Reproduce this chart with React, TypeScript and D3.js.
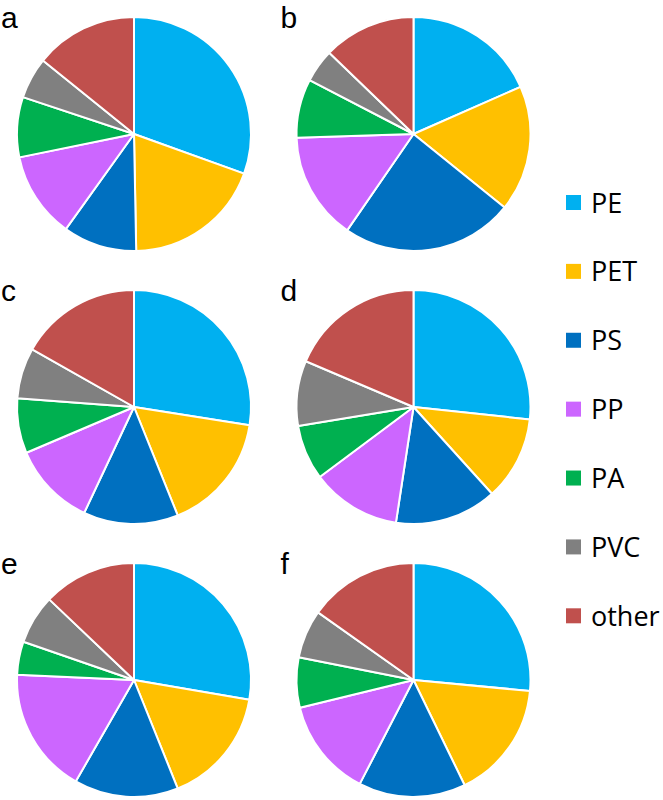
import { useRef, useEffect } from "react";
import * as d3 from "d3";

const categories = ["PE", "PET", "PS", "PP", "PA", "PVC", "other"];
const colors = ["#00B0F0", "#FFC000", "#0070C0", "#CC66FF", "#00B050", "#808080", "#C0504D"];

const panelLabels = ["a", "b", "c", "d", "e", "f"];

// share (%) per category, same order as categories
const valuesA = [30.5, 19.2, 10.2, 11.9, 8.3, 5.7, 14.2];
const valuesB = [18.4, 17.4, 23.8, 14.9, 8.1, 4.6, 12.8];
const valuesC = [27.5, 16.4, 13.1, 11.6, 7.6, 7.0, 16.8];
const valuesD = [26.7, 11.6, 14.1, 12.4, 7.6, 9.0, 18.6];
const valuesE = [27.7, 16.2, 14.4, 17.4, 4.6, 6.8, 12.9];
const valuesF = [26.5, 16.3, 14.8, 13.6, 6.9, 6.7, 15.2];

const panelValues = [valuesA, valuesB, valuesC, valuesD, valuesE, valuesF];

const W = 663;
const H = 800;

export default function App() {
  const svgRef = useRef<SVGSVGElement>(null);

  useEffect(() => {
    if (!svgRef.current) return;
    const svg = d3.select(svgRef.current);
    svg.selectAll("*").remove();

    const radius = 117;
    const colX = d3.scalePoint<number>().domain([0, 1]).range([134, 413.5]);
    const rowY = d3.scalePoint<number>().domain([0, 1, 2]).range([134, 680]);
    const color = d3.scaleOrdinal<string, string>().domain(categories).range(colors);

    const pie = d3
      .pie<number>()
      .sort(null)
      .value((d) => d);
    const arc = d3.arc<d3.PieArcDatum<number>>().innerRadius(0).outerRadius(radius);

    panelValues.forEach((vals, i) => {
      const cx = colX(i % 2)!;
      const cy = rowY(Math.floor(i / 2))!;
      const g = svg.append("g").attr("transform", `translate(${cx},${cy})`);

      g.selectAll("path")
        .data(pie(vals))
        .join("path")
        .attr("d", arc)
        .attr("fill", (_, j) => color(categories[j]))
        .attr("stroke", "#fff")
        .attr("stroke-width", 2)
        .attr("stroke-linejoin", "round");

      // panel letter
      svg
        .append("text")
        .attr("x", cx - 133)
        .attr("y", cy - 106)
        .attr("font-family", "'Liberation Sans', Arial, sans-serif")
        .attr("font-size", "30px")
        .attr("fill", "#000")
        .text(panelLabels[i]);
    });

    // Legend
    const legendY = d3
      .scalePoint<string>()
      .domain(categories)
      .range([202.5, 615.8]);

    const legend = svg.append("g");
    categories.forEach((c) => {
      const y = legendY(c)!;
      legend
        .append("rect")
        .attr("x", 566)
        .attr("y", y - 7.5)
        .attr("width", 15)
        .attr("height", 15)
        .attr("fill", color(c));
      legend
        .append("text")
        .attr("x", 591)
        .attr("y", y + 10)
        .attr("font-family", "'Open Sans', 'Noto Sans', sans-serif")
        .attr("font-size", "27px")
        .attr("fill", "#000")
        .text(c);
    });
  }, []);

  return (
    <svg
      ref={svgRef}
      width={W}
      height={H}
      style={{ position: "absolute", left: 0, top: 0, background: "#fff" }}
    />
  );
}
